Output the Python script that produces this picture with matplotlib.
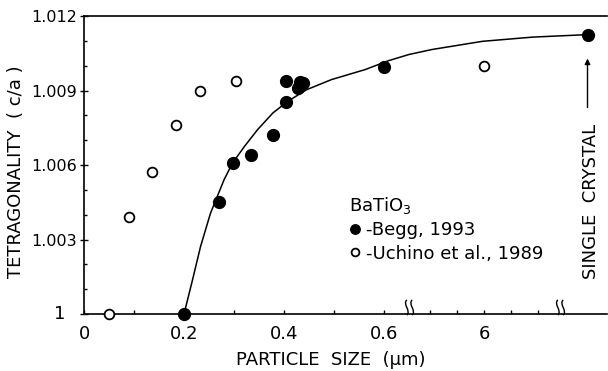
import numpy as np
import matplotlib
matplotlib.use("Agg")
import matplotlib.pyplot as plt
import matplotlib.transforms as mtransforms
from matplotlib.path import Path

# particle size in um (np.inf = single crystal) and tetragonality c/a
begg_size = [0.2, 0.27, 0.297, 0.334, 0.377, 0.403, 0.403, 0.427, 0.432, 0.437, 0.6, np.inf]
begg_ca = [1.0, 1.00453, 1.00608, 1.00641, 1.00722, 1.00852, 1.00937, 1.0091, 1.00935, 1.0093, 1.00996, 1.01125]

uchino_size = [0.05, 0.09, 0.135, 0.184, 0.232, 0.304, 6.0]
uchino_ca = [1.0, 1.0039, 1.0057, 1.0076, 1.0090, 1.0094, 1.0100]

fit_size = [0.2, 0.217, 0.233, 0.253, 0.28, 0.297, 0.321, 0.347, 0.378, 0.408,
            0.445, 0.495, 0.562, 0.609, 0.65, 4.07, 5.94, 7.8, np.inf]
fit_ca = [1.0, 1.00137, 1.00271, 1.00406, 1.0054, 1.00608, 1.00675, 1.00742, 1.0081, 1.00857,
          1.00903, 1.00944, 1.00984, 1.0102, 1.01045, 1.01065, 1.01098, 1.01115, 1.01125]

xtick_vals = [0, 0.2, 0.4, 0.6, 6]
xtick_labels = ["0", "0.2", "0.4", "0.6", "6"]
xminor_vals = [0.1, 0.3, 0.5, 4, 5, 7, 8]
ytick_vals = [1.0, 1.003, 1.006, 1.009, 1.012]
ytick_labels = ["", "1.003", "1.006", "1.009", "1.012"]
break_at = [0.65, 8.8]  # um, where the axis is cut


def axis_pos(size):
    # broken axis: 0-0.65 um linear, 3-9 um squeezed, single crystal at the end
    size = np.asarray(size, dtype=float)
    mid = 0.8 + (size - 6) * 0.054
    pos = np.where(size <= 0.65, size, mid)
    return np.where(np.isinf(size), 1.007, pos)


# two small vertical S strokes for the axis break
s_verts = []
s_codes = []
for dx in (-0.35, 0.35):
    s_verts += [(dx, -1), (dx + 0.6, -0.4), (dx - 0.6, 0.4), (dx, 1)]
    s_codes += [Path.MOVETO, Path.CURVE4, Path.CURVE4, Path.CURVE4]
break_mark = Path(s_verts, s_codes)

plt.rcParams["font.family"] = ["DejaVu Sans"]
fig = plt.figure(figsize=(6.08, 3.71), dpi=100)
ax = fig.add_axes([84 / 608, 57 / 371, 523 / 608, 298 / 371])

ax.plot(axis_pos(fit_size), fit_ca, color="black", lw=1.1, zorder=2)
ax.plot(axis_pos(begg_size), begg_ca, "o", color="black", ms=8.5, zorder=3,
        label="-Begg, 1993", clip_on=False)
ax.plot(axis_pos(uchino_size), uchino_ca, "o", mfc="white", mec="black", mew=1.3, ms=7,
        zorder=3, label="-Uchino et al., 1989", clip_on=False)

ax.set_xlim(0, 1.046)
ax.set_ylim(1.0, 1.012)

ax.set_xticks(axis_pos(xtick_vals))
ax.set_xticklabels(xtick_labels)
ax.set_xticks(axis_pos(xminor_vals), minor=True)
ax.set_yticks(ytick_vals)
ax.set_yticklabels(ytick_labels)
ax.set_yticks(np.arange(1.001, 1.012, 0.001), minor=True)
ax.tick_params(axis="x", which="both", direction="in", length=3, width=1, pad=8, labelsize=13)
ax.tick_params(axis="y", which="major", direction="inout", length=6, width=1, pad=2, labelsize=11.5)
ax.tick_params(axis="y", which="minor", direction="in", length=2, width=1)

# the "1" label sits further left in the original
trans = mtransforms.blended_transform_factory(ax.transAxes, ax.transData)
ax.text(-0.046, 1.0, "1", transform=trans, ha="center", va="center", fontsize=13)

for side in ["left", "top", "bottom"]:
    ax.spines[side].set_linewidth(1.2)
ax.spines["right"].set_visible(False)

# axis break marks
ax.plot(axis_pos(break_at), [1.0003, 1.0003], ls="none",
        marker=break_mark, ms=11, mfc="none", mec="black", mew=1, clip_on=False, zorder=4)

ax.set_xlabel("PARTICLE  SIZE  (\u00b5m)", fontsize=13)
ax.xaxis.set_label_coords(0.471, -0.125)
ax.set_ylabel("TETRAGONALITY  ( c/a )", fontsize=13)
ax.yaxis.set_label_coords(-0.112, 0.477)

ax.text(1.013, 1.00455, "SINGLE  CRYSTAL", rotation=90, ha="center", va="center", fontsize=13)
ax.annotate("", xy=(1.007, 1.0104), xytext=(1.007, 1.0082),
            arrowprops=dict(arrowstyle="-|>", color="black", lw=1, mutation_scale=8))

leg = ax.legend(title="BaTiO$_3$", loc="upper left", bbox_to_anchor=(0.49, 0.43),
                frameon=False, fontsize=13, title_fontsize=13, handlelength=0.6,
                handletextpad=0.3, labelspacing=0.3, borderpad=0, markerscale=0.8,
                alignment="left")

fig.savefig("out.png", dpi=100)
